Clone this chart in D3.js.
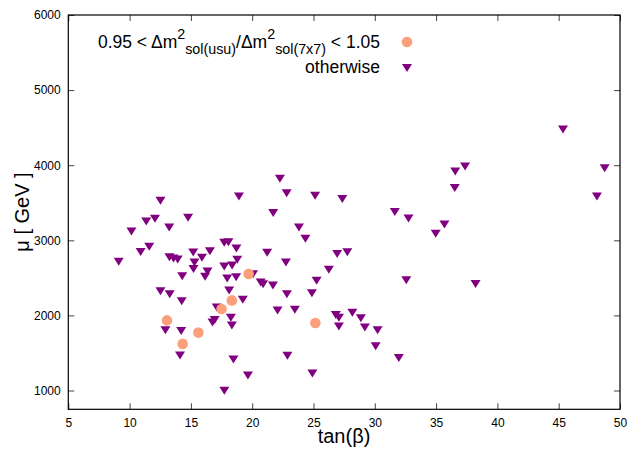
<!DOCTYPE html>
<html lang="en">
<head>
<meta charset="UTF-8">
<title>mu vs tan(beta)</title>
<script src="https://d3js.org/d3.v7.min.js"></script>
<style>
  body { margin: 0; background: #fff; }
  svg text { font-family: "Liberation Sans", Arial, sans-serif; }
</style>
</head>
<body>
<script>
// points with 0.95 < ratio < 1.05
var inTanb = [13.05, 14.33, 15.61, 17.50, 18.34, 19.71, 25.15];
var inMu   = [1934, 1621, 1771, 2086, 2200, 2553, 1900];

// all other points
var outTanb = [9.11, 10.15, 10.90, 11.36, 11.60, 12.07, 12.52, 13.23, 13.25, 13.58,
  13.92, 14.77, 14.29, 15.19, 15.29, 15.21, 15.90, 16.55, 16.35, 16.16,
  12.52, 13.27, 14.25, 12.92, 14.21, 14.11, 17.11, 16.76, 16.94, 17.72,
  18.06, 18.71, 17.72, 18.36, 18.78, 17.96, 18.69, 18.12, 19.23, 18.26,
  18.34, 18.47, 19.65, 17.73, 18.92, 21.22, 21.71, 20.07, 20.69, 20.89,
  21.69, 22.07, 22.26, 22.81, 25.13, 27.35, 23.81, 24.34, 26.93, 27.76,
  22.75, 26.25, 25.25, 24.87, 22.83, 23.48, 26.82, 27.07, 28.17, 28.86,
  27.07, 29.19, 22.87, 24.91, 45.35, 36.56, 37.36, 36.52, 48.75, 48.12,
  31.63, 32.75, 35.68, 34.97, 32.57, 38.22, 30.23, 30.07, 31.96];
var outMu = [2713, 3118, 2844, 3251, 2915, 3287, 3527, 3172, 2773, 2758,
  2745, 3301, 2523, 2839, 2706, 2618, 2769, 2855, 2585, 2516,
  2323, 2283, 2190, 1801, 1791, 1465, 2106, 1907, 1940, 2968,
  2975, 2892, 2653, 2666, 2742, 2492, 2509, 2332, 2207, 1968,
  1867, 1412, 1199, 996, 3584, 2835, 3363, 2549, 2439, 2416,
  2399, 2064, 3819, 3626, 3593, 3551, 3170, 3021, 2819, 2842,
  2706, 2609, 2463, 2294, 2283, 2077, 2007, 1968, 2035, 1961,
  1851, 1838, 1463, 1226, 4477, 3916, 3983, 3696, 3959, 3584,
  3378, 3290, 3210, 3088, 2467, 2419, 1801, 1589, 1432];

var xTicks = [5, 10, 15, 20, 25, 30, 35, 40, 45, 50];
var yTicks = [1000, 2000, 3000, 4000, 5000, 6000];

var w = 642, h = 450;
var pL = 68.3, pR = 620, pT = 15, pB = 409.3;

var svg = d3.select("body").append("svg")
  .attr("width", w)
  .attr("height", h);

var x = d3.scaleLinear().domain([5, 50]).range([pL, pR]);
var y = d3.scaleLinear().domain([750, 6000]).range([pB, pT]);

// axes, ticks pointing inward, mirrored on top/right
svg.append("g")
  .attr("transform", "translate(0," + pB + ")")
  .call(d3.axisBottom(x).tickValues(xTicks).tickSizeInner(-6).tickSizeOuter(0).tickPadding(9));
svg.append("g")
  .attr("transform", "translate(0," + pT + ")")
  .call(d3.axisTop(x).tickValues(xTicks).tickSizeInner(-6).tickSizeOuter(0).tickFormat(""));
svg.append("g")
  .attr("transform", "translate(" + pL + ",0)")
  .call(d3.axisLeft(y).tickValues(yTicks).tickFormat(d3.format("d"))
    .tickSizeInner(-6).tickSizeOuter(0).tickPadding(7.6));
svg.append("g")
  .attr("transform", "translate(" + pR + ",0)")
  .call(d3.axisRight(y).tickValues(yTicks).tickSizeInner(-6).tickSizeOuter(0).tickFormat(""));

svg.selectAll(".domain").remove();
svg.selectAll(".tick line").attr("stroke", "#444");
svg.selectAll(".tick text")
  .attr("fill", "#000")
  .style("font-size", "12px")
  .style("font-family", "'Liberation Sans', Arial, sans-serif");

svg.append("rect")
  .attr("x", pL).attr("y", pT)
  .attr("width", pR - pL).attr("height", pB - pT)
  .attr("fill", "none").attr("stroke", "#000").attr("stroke-width", 1.2);

// markers
var tri = "M-5,-4L5,-4L0,4Z";
var purple = "#800080", salmon = "#fca07c";

svg.append("g").selectAll("path")
  .data(outTanb)
  .enter().append("path")
  .attr("d", tri)
  .attr("fill", purple)
  .attr("transform", function(d, i) {
    return "translate(" + x(d) + "," + y(outMu[i]) + ")";
  });

svg.append("g").selectAll("circle")
  .data(inTanb)
  .enter().append("circle")
  .attr("cx", function(d) { return x(d); })
  .attr("cy", function(d, i) { return y(inMu[i]); })
  .attr("r", 5.3)
  .attr("fill", salmon);

// legend
var lg = svg.append("text")
  .attr("x", 380).attr("y", 47.5)
  .attr("text-anchor", "end")
  .style("font-size", "17.5px");
lg.append("tspan").text("0.95 < \u0394m");
lg.append("tspan").attr("dy", -9).style("font-size", "14.3px").text("2");
lg.append("tspan").attr("dy", 15).style("font-size", "14.3px").text("sol(usu)");
lg.append("tspan").attr("dy", -6).text("/\u0394m");
lg.append("tspan").attr("dy", -9).style("font-size", "14.3px").text("2");
lg.append("tspan").attr("dy", 15).style("font-size", "14.3px").text("sol(7x7)");
lg.append("tspan").attr("dy", -6).text(" < 1.05");

svg.append("circle").attr("cx", 407).attr("cy", 42).attr("r", 5.3).attr("fill", salmon);

svg.append("text")
  .attr("x", 380).attr("y", 73)
  .attr("text-anchor", "end")
  .style("font-size", "17.5px")
  .text("otherwise");
svg.append("path").attr("d", tri).attr("fill", purple)
  .attr("transform", "translate(407,68)");

// axis titles
svg.append("text")
  .attr("x", 344).attr("y", 443)
  .attr("text-anchor", "middle")
  .style("font-size", "20px")
  .text("tan(\u03b2)");

svg.append("text")
  .attr("transform", "translate(29,212) rotate(-90)")
  .attr("text-anchor", "middle")
  .style("font-size", "20px")
  .text("\u03bc [ GeV ]");
</script>
</body>
</html>
